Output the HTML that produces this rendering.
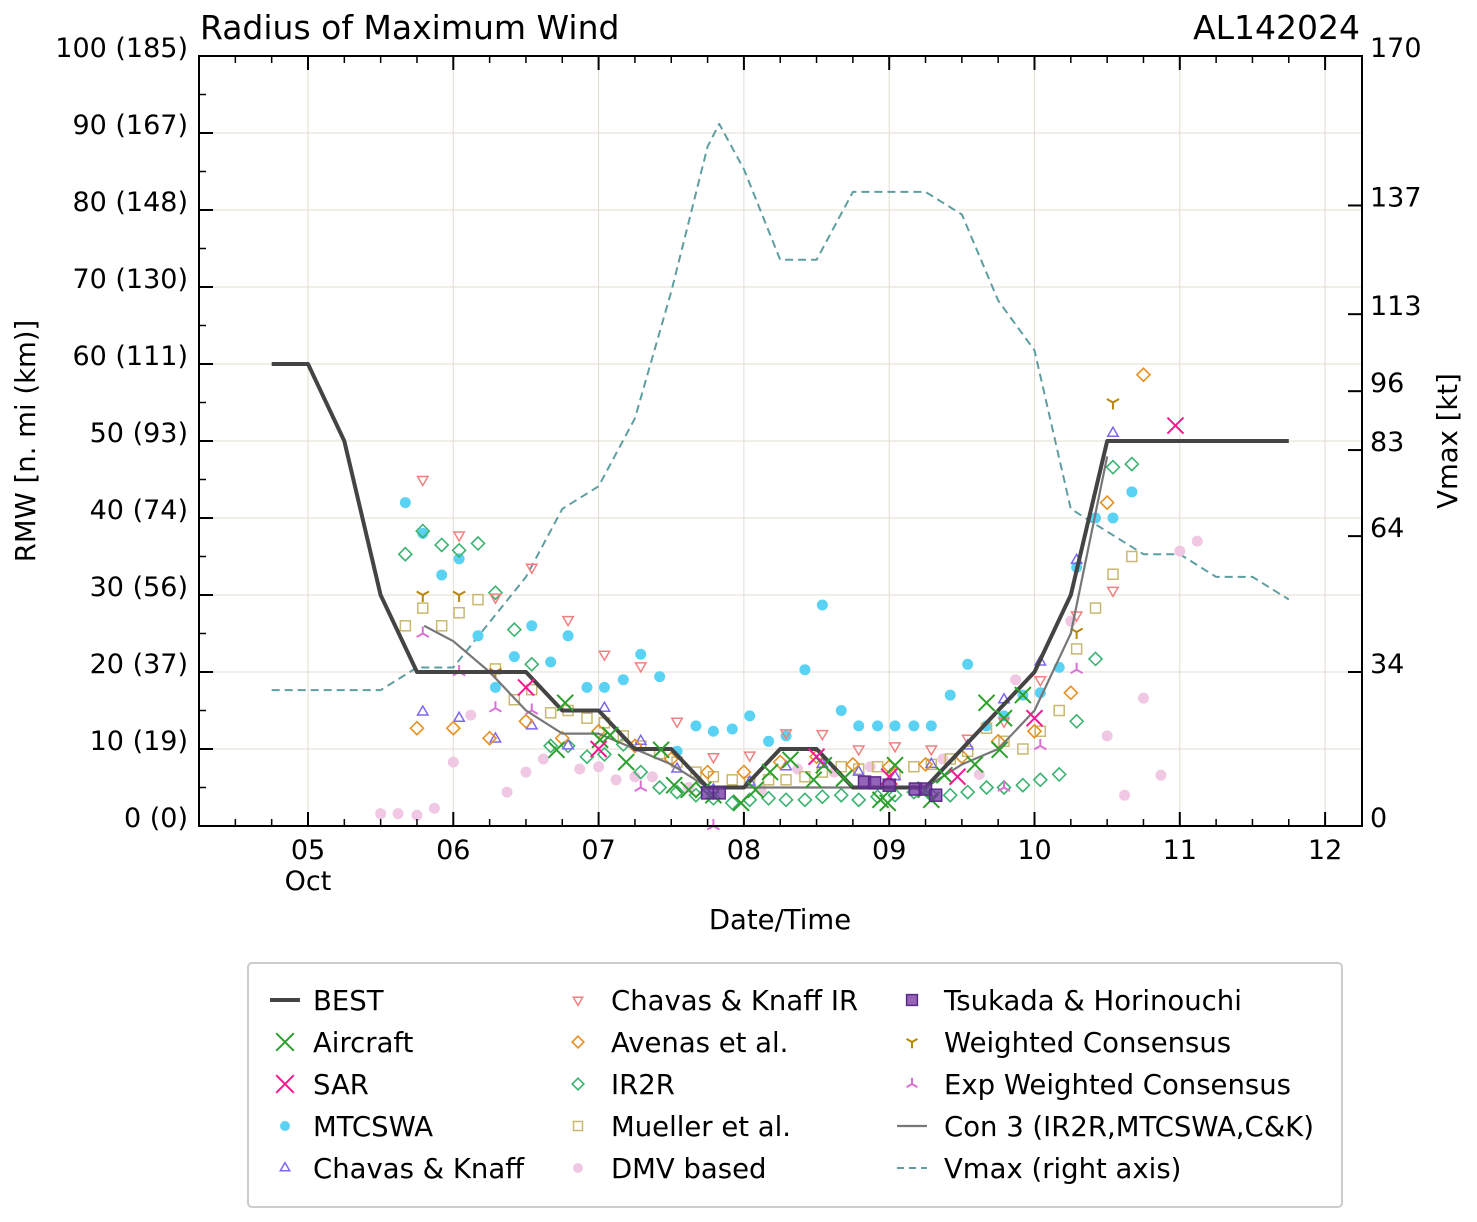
<!DOCTYPE html>
<html><head><meta charset="utf-8">
<style>
html,body{margin:0;padding:0;background:#fff;}
svg{display:block;font-family:"DejaVu Sans","Liberation Sans",sans-serif;}
</style></head>
<body>
<svg id="chart" width="1477" height="1222" viewBox="0 0 1477 1222" xmlns="http://www.w3.org/2000/svg">
<rect width="1477" height="1222" fill="#fff"/>
<g id="grid"></g>
<g id="series"></g>
<rect x="199" y="56" width="1163" height="770" fill="none" stroke="#000" stroke-width="2"/>
<g id="axes"></g>
<text x="200" y="39" font-size="33">Radius of Maximum Wind</text>
<text x="1360" y="39" font-size="33" text-anchor="end">AL142024</text>
<text x="780" y="929" font-size="27.5" text-anchor="middle">Date/Time</text>
<text transform="translate(35,441) rotate(-90)" font-size="27.5" text-anchor="middle">RMW [n. mi (km)]</text>
<text transform="translate(1457,441) rotate(-90)" font-size="27.5" text-anchor="middle">Vmax [kt]</text>
<g id="legend"></g>
</svg>
<script>
// ---- data ----
const xTicks = [5,6,7,8,9,10,11,12];
const xTickLabels = ["05","06","07","08","09","10","11","12"];
const yTicks = [0,10,20,30,40,50,60,70,80,90,100];
const yTickLabels = ["0 (0)","10 (19)","20 (37)","30 (56)","40 (74)","50 (93)","60 (111)","70 (130)","80 (148)","90 (167)","100 (185)"];
const vTicks = [0,34,64,83,96,113,137,170];
const vTickLabels = ["0","34","64","83","96","113","137","170"];

const bestT = [4.75,5.0,5.25,5.5,5.75,6.0,6.25,6.5,6.75,7.0,7.25,7.5,7.75,8.0,8.25,8.5,8.75,9.0,9.25,9.5,9.75,10.0,10.25,10.5,11.75];
const bestV = [60,60,50,30,20,20,20,20,15,15,10,10,5,5,10,10,5,5,5,10,15,20,30,50,50];

const con3T = [5.8,6.0,6.25,6.5,6.75,7.0,7.25,7.5,7.75,8.0,8.25,8.5,8.75,9.0,9.25,9.5,9.75,10.0,10.25,10.5];
const con3V = [26,24,20,15,12,12,10,8,5,5,5,5,5,5,5,8,10,15,25,48];

const vmaxT = [4.75,5.0,5.25,5.5,5.75,6.0,6.25,6.5,6.75,7.0,7.25,7.5,7.75,7.83,8.0,8.25,8.5,8.75,9.0,9.25,9.5,9.75,10.0,10.25,10.5,10.75,11.0,11.25,11.5,11.75];
const vmaxK = [30,30,30,30,35,35,45,55,70,75,90,118,150,155,145,125,125,140,140,140,135,116,105,70,65,60,60,55,55,50];

const mtcT = [5.67,5.79,5.92,6.04,6.17,6.29,6.42,6.54,6.67,6.79,6.92,7.04,7.17,7.29,7.42,7.54,7.67,7.79,7.92,8.04,8.17,8.29,8.42,8.54,8.67,8.79,8.92,9.04,9.17,9.29,9.42,9.54,9.67,9.79,9.92,10.04,10.17,10.29,10.42,10.54,10.67];
const mtcV = [42,38,32.6,34.7,24.7,18,22,26,21.3,24.7,18,18,19,22.3,19.4,9.7,13,12.3,12.6,14.3,11,11.7,20.3,28.7,15,13,13,13,13,13,17,21,13,14.3,17,17.3,20.6,33.6,40,40,43.4];

const ir2rT = [5.67,5.79,5.92,6.04,6.17,6.29,6.42,6.54,6.67,6.79,6.92,7.04,7.17,7.29,7.42,7.54,7.67,7.79,7.92,8.04,8.17,8.29,8.42,8.54,8.67,8.79,8.92,9.04,9.17,9.29,9.42,9.54,9.67,9.79,9.92,10.04,10.17,10.29,10.42,10.54,10.67];
const ir2rV = [35.3,38.3,36.5,35.8,36.7,30.3,25.5,21,10.4,10.4,9,9.3,10.6,7,5,4.4,4,3.6,3,3.4,3.6,3.4,3.4,3.8,4,3.4,3.8,4,4.4,4,4,4.4,5,5,5.3,6,6.7,13.6,21.7,46.6,47];

const ckirT = [5.79,6.04,6.29,6.54,6.79,7.04,7.29,7.54,7.79,8.04,8.29,8.54,8.79,9.04,9.29,9.54,9.79,10.04,10.29,10.54];
const ckirV = [45,37.8,29.7,33.6,26.8,22.3,20.8,13.6,9,9.2,12.1,12,10,10.4,10,11.4,13.6,19,27.4,30.6];

const avenT = [5.75,6.0,6.25,6.5,6.75,7.0,7.25,7.5,7.75,8.0,8.25,8.5,8.75,9.0,9.25,9.5,9.75,10.0,10.25,10.5,10.75];
const avenV = [12.7,12.7,11.4,13.6,11.4,12.3,10.4,8.7,7,7,8.3,9,8,7.7,8,9,11,12.3,17.3,42,58.6];

const muelT = [5.67,5.79,5.92,6.04,6.17,6.29,6.42,6.54,6.67,6.79,6.92,7.04,7.17,7.29,7.42,7.54,7.67,7.79,7.92,8.04,8.17,8.29,8.42,8.54,8.67,8.79,8.92,9.04,9.17,9.29,9.42,9.54,9.67,9.79,9.92,10.04,10.17,10.29,10.42,10.54,10.67];
const muelV = [26,28.3,26,27.7,29.4,20.4,16.4,17.7,14.7,15,14,13.4,11.7,10.4,9.4,8.3,7,6.4,6,5.7,6,6,6.4,7,7.7,7.4,7.7,6.7,7.7,8,8.7,9.7,12.7,11,10,12.3,15,23,28.3,32.7,35];

const dmvT = [5.5,5.62,5.75,5.87,6.0,6.12,6.37,6.5,6.62,6.87,7.0,7.12,7.25,7.37,7.62,8.12,8.37,8.62,8.87,9.37,9.62,9.87,10.25,10.5,10.62,10.75,10.87,11.0,11.12];
const dmvV = [1.6,1.6,1.4,2.3,8.3,14.4,4.4,7,8.7,7.4,7.7,6,6.4,6.4,5,4.7,7.4,7,7.7,8.7,6.7,19,26.6,11.7,4,16.6,6.6,35.7,37];

const ckT = [5.79,6.04,6.29,6.54,6.79,7.04,7.29,7.54,7.79,8.04,8.29,8.54,8.79,9.04,9.29,9.54,9.79,10.04,10.29,10.54];
const ckV = [14.8,14,11.3,13,10.4,15.3,11,7.4,4.7,5.7,7.7,8,7,6.4,8,10.4,16.4,21.3,34.5,51];

const acT = [6.71,6.77,7.01,7.08,7.19,7.43,7.52,7.62,7.72,7.79,7.98,8.08,8.18,8.32,8.48,8.55,8.69,8.94,8.99,9.04,9.25,9.29,9.38,9.59,9.67,9.76,9.79,9.92];
const acV = [9.9,16,11.2,11.8,8.3,9.9,5.3,4.7,4.7,4,3,4.7,7,8.6,6,7.9,6.2,3.4,3,7.9,4.7,3.4,6.6,8,16,9.9,14,17];

const sarT = [6.5,7.0,8.5,9.0,9.47,10.0,10.97];
const sarV = [18,10,9,6.4,6.4,14,52];

const tsuT = [7.75,7.83,8.83,8.9,9.0,9.18,9.25,9.32];
const tsuV = [4.3,4.3,5.7,5.6,5.3,4.8,4.8,4];

const wcT = [5.79,6.04,6.29,10.29,10.54];
const wcV = [30,30,20,25.2,55];

const ewcT = [5.79,6.04,6.29,6.54,7.29,7.79,9.79,10.04,10.29];
const ewcV = [25,20,15.3,15,5,0,5,10.4,20.3];

// ---- axes ----
const X = t => 308 + (t-5)*145.3;
const Y = v => 826 - v*7.7;
const YV = k => 826 - k*770/170;
const NS = "http://www.w3.org/2000/svg";
function mk(tag, attrs, parent){ const e=document.createElementNS(NS,tag); for(const k in attrs) e.setAttribute(k,attrs[k]); parent.appendChild(e); return e; }
const grid=document.getElementById('grid'), axes=document.getElementById('axes'), ser=document.getElementById('series'), leg=document.getElementById('legend');

xTicks.forEach((t,i)=>{
  const x=X(t);
  if(x<1362){
  const g=mk('line',{x1:x,x2:x,y1:56,y2:826,stroke:'#e3ddd0','stroke-width':1},grid);
  
  
  }
  const tx=mk('text',{x:x,y:859,'font-size':27,'text-anchor':'middle'},axes);
  
  
  tx.textContent=xTickLabels[i];
  [826,56].forEach(yb=>{ const d = yb===826?-14:14;
    const l=mk('line',{x1:x,x2:x,y1:yb,y2:yb+d,stroke:'#000','stroke-width':2},axes);
    
    
  });
});
{const o=mk('text',{x:X(5),y:890,'font-size':27,'text-anchor':'middle'},axes);


o.textContent='Oct';}
for(let t=4.25;t<=12.75;t+=0.25){
  if(Math.abs(t-Math.round(t))<0.01) continue;
  const x=X(t); if(x<=200||x>=1361) continue;
  [826,56].forEach(yb=>{ const d = yb===826?-7:7;
    const l=mk('line',{x1:x,x2:x,y1:yb,y2:yb+d,stroke:'#000','stroke-width':1.5},axes);
    
    
  });
}
yTicks.forEach((v,i)=>{
  const y=Y(v);
  if(v>0&&v<100){const g=mk('line',{x1:199,x2:1362,y1:y,y2:y,stroke:'#e3ddd0','stroke-width':1},grid);
  
  }
  const l=mk('line',{x1:199,x2:213,y1:y,y2:y,stroke:'#000','stroke-width':2},axes);
  
  
  const tx=mk('text',{x:188,y:y+1,'font-size':27,'text-anchor':'end'},axes);
  
  
  tx.textContent=yTickLabels[i];
});
for(let v=5;v<100;v+=10){
  const y=Y(v);
  const l=mk('line',{x1:199,x2:206,y1:y,y2:y,stroke:'#000','stroke-width':1.5},axes);
  
  
}
vTicks.forEach((k,i)=>{
  const y=YV(k);
  const l=mk('line',{x1:1348,x2:1362,y1:y,y2:y,stroke:'#000','stroke-width':2},axes);
  
  
  const tx=mk('text',{x:1370,y:y+1,'font-size':27},axes);
  
  
  tx.textContent=vTickLabels[i];
});

// ---- markers ----
function marker(kind, cx, cy, color, parent, s){
  s = s||1;
  let e;
  if(kind==='x'){
    const d=8*s;
    e=mk('path',{d:`M${cx-d},${cy-d}L${cx+d},${cy+d}M${cx-d},${cy+d}L${cx+d},${cy-d}`,stroke:color,'stroke-width':2,fill:'none'},parent);
  } else if(kind==='o'){
    e=mk('circle',{cx:cx,cy:cy,r:5.5*s,fill:color},parent);
  } else if(kind==='tu'){
    const r=6*s;
    e=mk('polygon',{points:`${cx},${cy-r} ${cx+r*0.87},${cy+r*0.5} ${cx-r*0.87},${cy+r*0.5}`,fill:'none',stroke:color,'stroke-width':1.5},parent);
  } else if(kind==='td'){
    const r=6*s;
    e=mk('polygon',{points:`${cx},${cy+r} ${cx+r*0.87},${cy-r*0.5} ${cx-r*0.87},${cy-r*0.5}`,fill:'none',stroke:color,'stroke-width':1.5},parent);
  } else if(kind==='d'){
    const r=6.5*s;
    e=mk('polygon',{points:`${cx},${cy-r} ${cx+r},${cy} ${cx},${cy+r} ${cx-r},${cy}`,fill:'none',stroke:color,'stroke-width':1.6},parent);
  } else if(kind==='s'){
    const r=5*s;
    e=mk('rect',{x:cx-r,y:cy-r,width:2*r,height:2*r,fill:'none',stroke:color,'stroke-width':1.5},parent);
  } else if(kind==='S'){
    const r=6*s;
    e=mk('rect',{x:cx-r,y:cy-r,width:2*r,height:2*r,fill:'rgba(112,48,160,0.75)',stroke:'#5a2a8a','stroke-width':1.5},parent);
  } else if(kind==='Yd'){
    const r=7*s;
    e=mk('path',{d:`M${cx},${cy}L${cx},${cy+r}M${cx},${cy}L${cx-r*0.87},${cy-r*0.5}M${cx},${cy}L${cx+r*0.87},${cy-r*0.5}`,stroke:color,'stroke-width':2,fill:'none'},parent);
  } else if(kind==='Yu'){
    const r=7*s;
    e=mk('path',{d:`M${cx},${cy}L${cx},${cy-r}M${cx},${cy}L${cx-r*0.87},${cy+r*0.5}M${cx},${cy}L${cx+r*0.87},${cy+r*0.5}`,stroke:color,'stroke-width':2,fill:'none'},parent);
  }
  return e;
}
function scatter(T,V,kind,color,name){
  const g=mk('g',{},ser);
  
  
  T.forEach((t,i)=>{
    const e=marker(kind,X(t),Y(V[i]),color,g);
    
    
  });
}
function line(T,V,yf,color,w,dash,name){
  const pts=T.map((t,i)=>X(t).toFixed(1)+','+yf(V[i]).toFixed(1)).join(' ');
  const e=mk('polyline',{points:pts,fill:'none',stroke:color,'stroke-width':w,'stroke-linejoin':'round'},ser);
  if(dash) e.setAttribute('stroke-dasharray',dash);
  
  
}

const C = {ac:'#2ca02c',sar:'#ff1493',mtc:'#5ad2f4',ck:'#7b68ee',ckir:'#f08080',aven:'#e69020',ir2r:'#3cb371',muel:'#c8b870',dmv:'#f0c8e4',tsu:'#7030a0',wc:'#b8860b',ewc:'#da70d6',best:'#444',con3:'#777',vmax:'#5f9ea0'};

line(vmaxT,vmaxK,YV,C.vmax,2,'8,5','vmax-line');
scatter(dmvT,dmvV,'o',C.dmv,'dmv');
scatter(mtcT,mtcV,'o',C.mtc,'mtcswa');
scatter(ir2rT,ir2rV,'d',C.ir2r,'ir2r');
scatter(muelT,muelV,'s',C.muel,'mueller');
scatter(ckirT,ckirV,'td',C.ckir,'chavas-knaff-ir');
scatter(ckT,ckV,'tu',C.ck,'chavas-knaff');
scatter(avenT,avenV,'d',C.aven,'avenas');
scatter(wcT,wcV,'Yd',C.wc,'weighted-consensus');
scatter(ewcT,ewcV,'Yu',C.ewc,'exp-weighted-consensus');
line(con3T,con3V,Y,C.con3,2.2,null,'con3-line');
line(bestT,bestV,Y,C.best,4,null,'best-track-line');
scatter(acT,acV,'x',C.ac,'aircraft');
scatter(sarT,sarV,'x',C.sar,'sar');
scatter(tsuT,tsuV,'S',C.tsu,'tsukada-horinouchi');

// ---- legend ----
{const b=mk('rect',{x:248,y:963,width:1094,height:244,rx:4,fill:'#fff',stroke:'#ccc','stroke-width':2},leg);

}
const legItems=[
 [0,0,'line',C.best,'BEST'],[0,1,'x',C.ac,'Aircraft'],[0,2,'x',C.sar,'SAR'],[0,3,'o',C.mtc,'MTCSWA'],[0,4,'tu',C.ck,'Chavas & Knaff'],
 [1,0,'td',C.ckir,'Chavas & Knaff IR'],[1,1,'d',C.aven,'Avenas et al.'],[1,2,'d',C.ir2r,'IR2R'],[1,3,'s',C.muel,'Mueller et al.'],[1,4,'o',C.dmv,'DMV based'],
 [2,0,'S',C.tsu,'Tsukada & Horinouchi'],[2,1,'Yd',C.wc,'Weighted Consensus'],[2,2,'Yu',C.ewc,'Exp Weighted Consensus'],[2,3,'line2',C.con3,'Con 3 (IR2R,MTCSWA,C&K)'],[2,4,'dash',C.vmax,'Vmax (right axis)']
];
const colX=[285,578,912], colTX=[313,611,944];
legItems.forEach(it=>{
  const [c,r,kind,color,label]=it;
  const y=1000+r*42, cx=colX[c];
  const g=mk('g',{},leg);
  
  
  if(kind==='line') mk('line',{x1:cx-15,x2:cx+15,y1:y,y2:y,stroke:color,'stroke-width':4},g);
  else if(kind==='line2') mk('line',{x1:cx-15,x2:cx+15,y1:y,y2:y,stroke:color,'stroke-width':2.2},g);
  else if(kind==='dash') mk('line',{x1:cx-15,x2:cx+15,y1:y,y2:y,stroke:color,'stroke-width':2,'stroke-dasharray':'7,5'},g);
  else marker(kind,cx,y,color,g,kind==='x'?1.1:0.9);
  const t=mk('text',{x:colTX[c],y:y+10,'font-size':27.5},g);
  t.textContent=label;
});
</script>
</body></html>
